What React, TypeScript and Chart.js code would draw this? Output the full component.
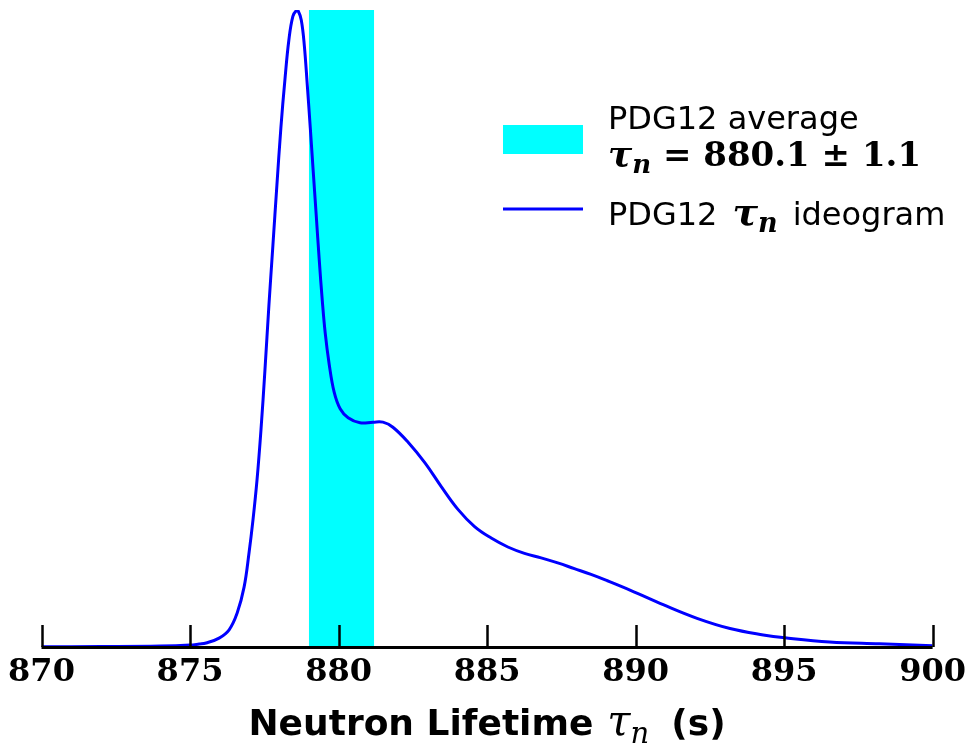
import React, { useEffect, useRef } from "react";
import { Chart, registerables } from "chart.js";

Chart.register(...registerables);

// ---- data ----
const lifetimes = [870, 872, 874, 875, 875.31, 875.54, 875.98, 876.317, 876.585, 876.82, 876.987, 877.121, 877.255, 877.389, 877.523, 877.657, 877.791, 877.925, 878.059, 878.194, 878.328, 878.462, 878.579, 878.646, 878.747, 878.847, 878.948, 879.049, 879.149, 879.25, 879.35, 879.451, 879.551, 879.685, 879.853, 880.054, 880.322, 880.724, 881.16, 881.495, 881.83, 882.35, 882.91, 883.47, 884.02, 884.58, 885.14, 885.7, 886.26, 886.82, 887.38, 887.94, 888.5, 889.05, 889.83, 890.95, 892.07, 893.18, 894.3, 895.03, 896.53, 898.21, 900];
const ideogram = [0.0003, 0.0006, 0.0014, 0.003, 0.0047, 0.0063, 0.014, 0.027, 0.053, 0.094, 0.148, 0.2, 0.262, 0.341, 0.435, 0.537, 0.631, 0.725, 0.815, 0.89, 0.953, 0.99, 0.999, 0.998, 0.984, 0.945, 0.882, 0.815, 0.746, 0.677, 0.608, 0.545, 0.493, 0.444, 0.4, 0.374, 0.36, 0.352, 0.353, 0.353, 0.345, 0.321, 0.289, 0.251, 0.216, 0.189, 0.171, 0.157, 0.147, 0.14, 0.132, 0.123, 0.114, 0.104, 0.089, 0.066, 0.045, 0.029, 0.019, 0.0145, 0.008, 0.005, 0.002];
const tickValues = [870, 875, 880, 885, 890, 895, 900];
const avgMean = 880.1;
const avgErr = 1.1;
const bandHeight = [1, 1];

const legendAvgLabel = "PDG12 average";
const legendIdeoPrefix = "PDG12";
const legendIdeoSuffix = "ideogram";
const axisTitleMain = "Neutron Lifetime";
const axisTitleUnit = "(s)";
const tauSymbol = "τ";
const tauSub = "n";

const CYAN = "#00ffff";
const BLUE = "#0000ff";

type Seg = { t: string; font: string; dy?: number; gap?: number };

function drawSegs(ctx: CanvasRenderingContext2D, segs: Seg[], x: number, y: number, align: "left" | "center") {
  const widths = segs.map((s) => {
    ctx.font = s.font;
    return ctx.measureText(s.t).width + (s.gap || 0);
  });
  const total = widths.reduce((a, b) => a + b, 0);
  let cx = align === "center" ? x - total / 2 : x;
  ctx.textAlign = "left";
  ctx.textBaseline = "alphabetic";
  segs.forEach((s, i) => {
    ctx.font = s.font;
    ctx.fillText(s.t, cx + (s.gap || 0), y + (s.dy || 0));
    cx += widths[i];
  });
}

const decorPlugin = {
  id: "decor",
  afterDraw(chart: any) {
    const ctx: CanvasRenderingContext2D = chart.ctx;
    const xs = chart.scales.x;
    const area = chart.chartArea;
    ctx.save();
    // inward tick marks
    ctx.strokeStyle = "#000";
    ctx.lineWidth = 2.5;
    tickValues.forEach((v) => {
      const px = Math.round(xs.getPixelForValue(v)) + 0.5;
      ctx.beginPath();
      ctx.moveTo(px, area.bottom);
      ctx.lineTo(px, area.bottom - 22);
      ctx.stroke();
    });
    // axis line
    ctx.lineWidth = 3;
    ctx.beginPath();
    ctx.moveTo(area.left, area.bottom + 0.5);
    ctx.lineTo(area.right, area.bottom + 0.5);
    ctx.stroke();

    // axis title
    ctx.fillStyle = "#000";
    const cx = (area.left + area.right) / 2;
    drawSegs(
      ctx,
      [
        { t: axisTitleMain, font: "bold 36px 'DejaVu Sans'" },
        { t: tauSymbol, font: "italic 42px 'DejaVu Serif'", gap: 14 },
        { t: tauSub, font: "italic 29px 'DejaVu Serif'", dy: 8 },
        { t: axisTitleUnit, font: "bold 36px 'DejaVu Sans'", gap: 22 },
      ],
      cx,
      735,
      "center"
    );

    // legend
    const lx = 503;
    const tx = 608;
    ctx.fillStyle = CYAN;
    ctx.fillRect(lx, 125, 80, 29);
    ctx.strokeStyle = BLUE;
    ctx.lineWidth = 3;
    ctx.beginPath();
    ctx.moveTo(lx, 209);
    ctx.lineTo(lx + 80, 209);
    ctx.stroke();

    ctx.fillStyle = "#000";
    drawSegs(ctx, [{ t: legendAvgLabel, font: "32px 'DejaVu Sans'" }], tx, 129, "left");
    drawSegs(
      ctx,
      [
        { t: tauSymbol, font: "bold italic 36px 'DejaVu Serif'" },
        { t: tauSub, font: "bold italic 26px 'DejaVu Serif'", dy: 7 },
        { t: " = " + avgMean.toFixed(1) + " ± " + avgErr.toFixed(1), font: "bold 34px 'DejaVu Serif'" },
      ],
      tx,
      166,
      "left"
    );
    drawSegs(
      ctx,
      [
        { t: legendIdeoPrefix, font: "32px 'DejaVu Sans'" },
        { t: tauSymbol, font: "bold italic 38px 'DejaVu Serif'", gap: 15 },
        { t: tauSub, font: "bold italic 27px 'DejaVu Serif'", dy: 7 },
        { t: legendIdeoSuffix, font: "32px 'DejaVu Sans'", gap: 15 },
      ],
      tx,
      225,
      "left"
    );
    ctx.restore();
  },
};

export default function App() {
  const ref = useRef<HTMLCanvasElement | null>(null);
  useEffect(() => {
    if (!ref.current) return;
    const chart = new Chart(ref.current, {
      type: "line",
      data: {
        datasets: [
          {
            label: "PDG12 ideogram",
            data: lifetimes.map((x, i) => ({ x, y: ideogram[i] })),
            borderColor: BLUE,
            borderWidth: 3,
            pointRadius: 0,
            fill: false,
            tension: 0.4,
            order: 0,
          },
          {
            label: "PDG12 average",
            data: [avgMean - avgErr, avgMean + avgErr].map((x, i) => ({ x, y: bandHeight[i] })),
            borderWidth: 0,
            borderColor: CYAN,
            backgroundColor: CYAN,
            pointRadius: 0,
            fill: "origin",
            order: 1,
          },
        ],
      },
      options: {
        animation: false,
        responsive: false,
        devicePixelRatio: 1,
        layout: { padding: { left: 41.5, right: 35.3, top: 10, bottom: 0 } },
        plugins: { legend: { display: false }, tooltip: { enabled: false } },
        scales: {
          x: {
            type: "linear",
            min: 870,
            max: 900,
            afterFit: (s: any) => {
              s.height = 99;
            },
            afterBuildTicks: (s: any) => {
              s.ticks = tickValues.map((v) => ({ value: v }));
            },
            grid: { display: false, drawTicks: false },
            border: { display: false },
            ticks: {
              color: "#000",
              padding: 6,
              maxRotation: 0,
              font: { family: "'DejaVu Serif'", weight: "bold", size: 32 },
            },
          },
          y: { type: "linear", min: 0, max: 1, display: false },
        },
      },
      plugins: [decorPlugin],
    } as any);
    return () => chart.destroy();
  }, []);
  return (
    <div style={{ position: "absolute", left: 0, top: 0, width: 972, height: 746, background: "#fff" }}>
      <canvas ref={ref} width={972} height={746} style={{ width: 972, height: 746 }} />
    </div>
  );
}
